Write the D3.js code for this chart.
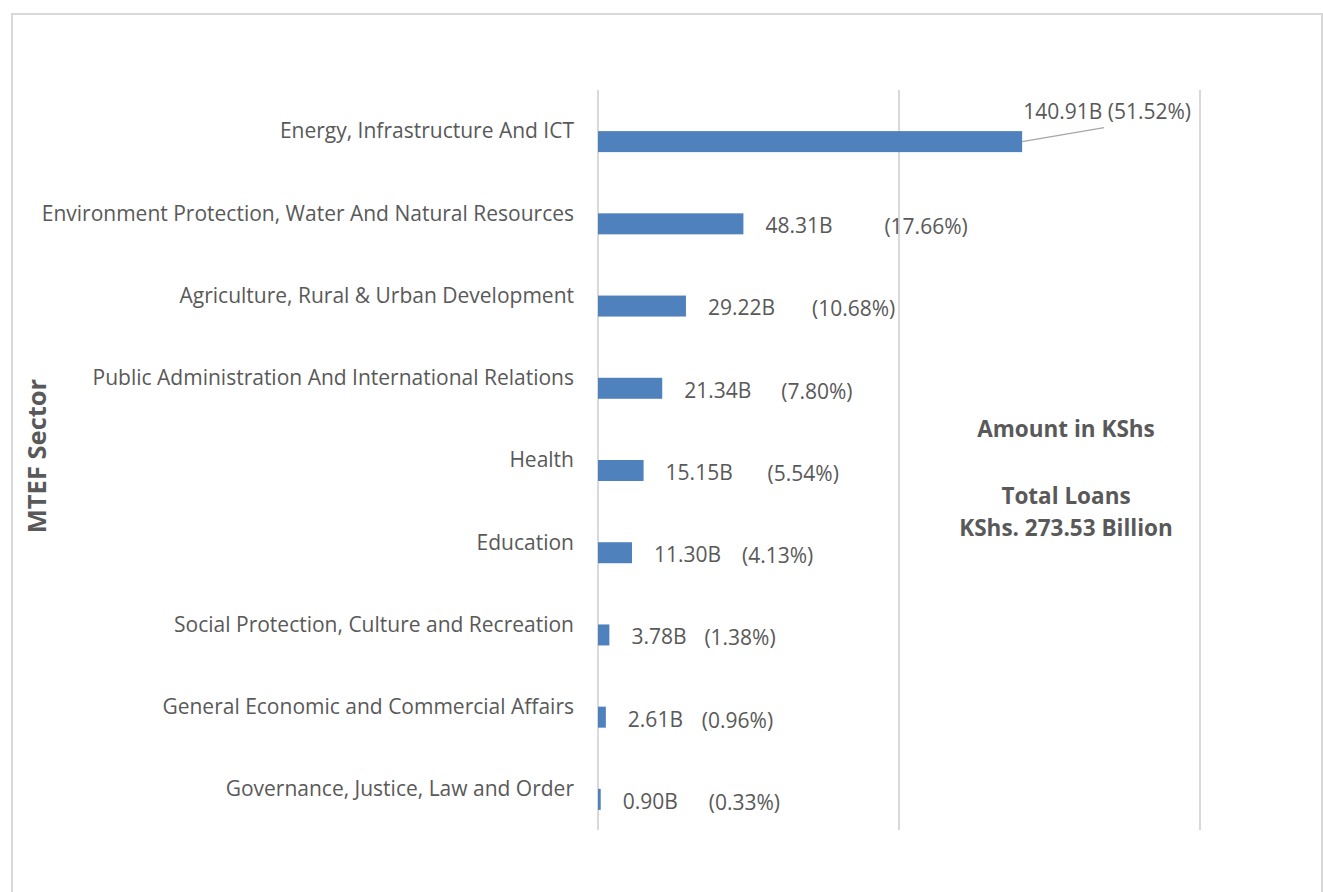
<!DOCTYPE html>
<html>
<head>
<meta charset="utf-8">
<script src="https://cdn.jsdelivr.net/npm/d3@7"></script>
<style>
  body { margin: 0; background: #fff; }
  text { font-family: "Open Sans", "Noto Sans", sans-serif; fill: #595959; }
</style>
</head>
<body>
<div id="container"></div>
<script>
'use strict';

// sectors, top to bottom
var sectors = [
  "Energy, Infrastructure And ICT",
  "Environment Protection, Water And Natural Resources",
  "Agriculture, Rural & Urban Development",
  "Public Administration And International Relations",
  "Health",
  "Education",
  "Social Protection, Culture and Recreation",
  "General Economic and Commercial Affairs",
  "Governance, Justice, Law and Order"
];
// loans in KShs billion
var amounts = [140.91, 48.31, 29.22, 21.34, 15.15, 11.30, 3.78, 2.61, 0.90];
var shares = ["51.52%", "17.66%", "10.68%", "7.80%", "5.54%", "4.13%", "1.38%", "0.96%", "0.33%"];
var xTicks = [0, 100, 200];

// hand placed percent labels (px after the amount label), as in the original
var pctGap = [0, 119, 104, 97, 102, 88, 73, 74, 86];

var W = 1323, H = 892;
var margin = {top: 90, right: 123, bottom: 62, left: 598};
var fontSize = "21px";

var svg = d3.select("#container").append("svg")
  .attr("width", W)
  .attr("height", H);

// chart area border
svg.append("rect")
  .attr("x", 12).attr("y", 14)
  .attr("width", 1310).attr("height", 900)
  .attr("fill", "#fff")
  .attr("stroke", "#d9d9d9")
  .attr("stroke-width", 2);

var x = d3.scaleLinear()
  .domain([0, 200])
  .range([margin.left, W - margin.right]);

var y = d3.scaleBand()
  .domain(sectors)
  .range([margin.top, H - margin.bottom])
  .paddingInner(0.489)
  .paddingOuter(0.2445);

var half = y.bandwidth() / 2;

// gridlines
svg.append("g")
  .selectAll("line")
  .data(xTicks)
  .join("line")
  .attr("x1", function(d) { return x(d); })
  .attr("x2", function(d) { return x(d); })
  .attr("y1", margin.top)
  .attr("y2", H - margin.bottom)
  .attr("stroke", "#d9d9d9")
  .attr("stroke-width", 2);

// category labels
svg.append("g")
  .selectAll("text")
  .data(sectors)
  .join("text")
  .attr("x", margin.left - 24)
  .attr("y", function(d) { return y(d) + half; })
  .attr("dy", "0.35em")
  .attr("text-anchor", "end")
  .style("font-size", fontSize)
  .text(function(d) { return d; });

// bars sit in the lower half of each band
svg.append("g")
  .selectAll("rect")
  .data(amounts)
  .join("rect")
  .attr("x", x(0))
  .attr("y", function(d, i) { return y(sectors[i]) + half; })
  .attr("width", function(d) { return x(d) - x(0); })
  .attr("height", half)
  .attr("fill", "#4f81bd");

var labels = svg.append("g");

amounts.forEach(function(v, i) {
  var cy = y(sectors[i]) + half * 1.5;
  if (i === 0) {
    // moved label with leader line
    labels.append("line")
      .attr("x1", x(v)).attr("y1", cy)
      .attr("x2", x(v) + 82).attr("y2", cy - 14)
      .attr("stroke", "#a6a6a6")
      .attr("stroke-width", 1.3);
    labels.append("text")
      .attr("x", x(v) + 1)
      .attr("y", cy - 30)
      .attr("dy", "0.35em")
      .style("font-size", fontSize)
      .text(v.toFixed(2) + "B (" + shares[i] + ")");
    return;
  }
  var lx = x(v) + 22;
  labels.append("text")
    .attr("x", lx)
    .attr("y", cy + 2)
    .attr("dy", "0.35em")
    .style("font-size", fontSize)
    .text(v.toFixed(2) + "B");
  labels.append("text")
    .attr("x", lx + pctGap[i])
    .attr("y", cy + 3)
    .attr("dy", "0.35em")
    .style("font-size", fontSize)
    .text("(" + shares[i] + ")");
});

// axis title
svg.append("text")
  .attr("transform", "translate(37," + 456 + ") rotate(-90)")
  .attr("dy", "0.35em")
  .attr("text-anchor", "middle")
  .style("font-size", "25.5px")
  .style("font-weight", "bold")
  .text("MTEF Sector");

// note box
var note = svg.append("g")
  .attr("text-anchor", "middle")
  .style("font-weight", "bold")
  .style("font-size", "22.5px");
note.append("text").attr("x", 1066).attr("y", 429).attr("dy", "0.35em").text("Amount in KShs");
note.append("text").attr("x", 1066).attr("y", 496).attr("dy", "0.35em").text("Total Loans");
note.append("text").attr("x", 1066).attr("y", 528).attr("dy", "0.35em").text("KShs. 273.53 Billion");
</script>
</body>
</html>
